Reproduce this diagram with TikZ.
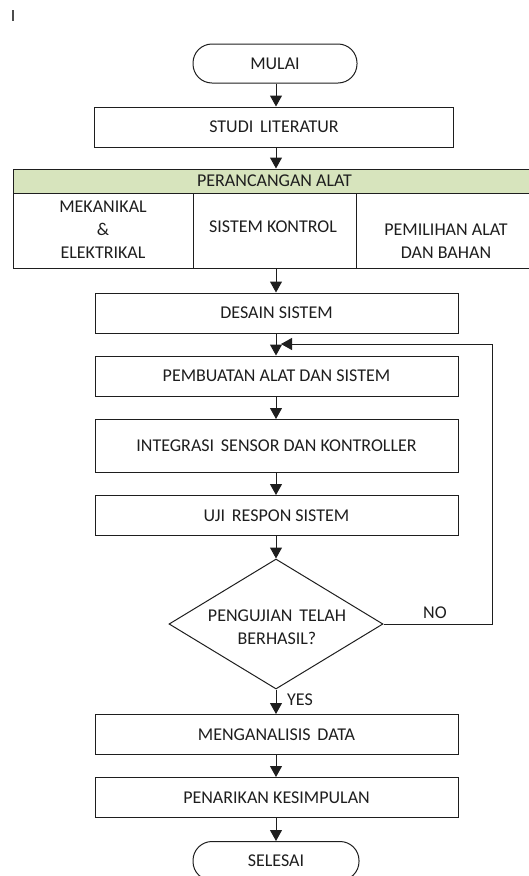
\documentclass[tikz,border=0pt]{standalone}
\usepackage{fontspec}
\setmainfont{Carlito}
\usetikzlibrary{arrows.meta,shapes.geometric}
\definecolor{hdrgreen}{RGB}{215,228,189}
\definecolor{ink}{RGB}{30,30,30}
\newcommand{\dsp}{\ \hspace{0.15em}}
\begin{document}
\begin{tikzpicture}[x=1pt,y=-1pt,
  every node/.style={font=\fontsize{18}{23}\selectfont, text=ink},
  procbox/.style={draw=ink, line width=1pt, minimum width=363pt, minimum height=40pt, inner sep=0pt, align=center},
  term/.style={draw=ink, line width=1pt, rounded corners=19pt, minimum width=164pt, minimum height=39pt, inner sep=0pt},
  cellbox/.style={draw=ink, line width=1pt, inner sep=0pt},
  lbl/.style={align=center, inner sep=0pt},
  arr/.style={draw=ink, line width=1pt, -{Triangle[width=12pt,length=11pt]}},
  plain/.style={draw=ink, line width=1pt}
]
\useasboundingbox (0,0) rectangle (528,876);

% small mark top-left
\draw[line width=1.3pt, black!70] (13,10) -- (13,21);

% nodes
\node[term] (start) at (275,63.5) {MULAI};
\node[procbox, minimum width=359pt] (studi) at (274,127) {STUDI\dsp LITERATUR};

% table
\node[cellbox, fill=hdrgreen, minimum width=523pt, minimum height=24pt] (hdr) at (274.5,181) {PERANCANGAN ALAT};
\node[cellbox, minimum width=180pt, minimum height=75pt] (c1) at (103,230.5) {};
\node[cellbox, minimum width=163pt, minimum height=75pt] (c2) at (274.5,230.5) {};
\node[cellbox, minimum width=180pt, minimum height=75pt] (c3) at (446,230.5) {};
\node[lbl] (t1) at (103,230) {MEKANIKAL\\\&\\ELEKTRIKAL};
\node[lbl] (t2) at (273,227) {SISTEM KONTROL};
\node[lbl] (t3) at (446,241) {PEMILIHAN ALAT\\DAN BAHAN};

\node[procbox] (desain) at (276.5,313) {DESAIN SISTEM};
\node[procbox] (buat) at (276.5,376) {PEMBUATAN ALAT DAN SISTEM};
\node[procbox, minimum height=53pt] (integ) at (276.5,446) {INTEGRASI\dsp SENSOR DAN KONTROLLER};
\node[procbox] (uji) at (276.5,515.5) {UJI\dsp RESPON SISTEM};
\node[draw=ink, line width=1pt, diamond, minimum width=214pt, minimum height=130pt, inner sep=0pt, align=center] (cek) at (276,624) {};
\node[lbl] (cektext) at (277,627) {PENGUJIAN\dsp TELAH\\BERHASIL?};
\node[procbox] (analisis) at (276.5,734.5) {MENGANALISIS\dsp DATA};
\node[procbox] (tarik) at (276.5,797.5) {PENARIKAN KESIMPULAN};
\node[term, minimum width=166pt] (stop) at (276,861) {SELESAI};

% connectors
\draw[arr] (start.south -| 276,0) -- (276,0 |- studi.north);
\draw[arr] (studi.south -| 276,0) -- (276,0 |- hdr.north);
\draw[arr] (276,0 |- c2.south) -- (276,0 |- desain.north);
\draw[arr] (276,0 |- desain.south) -- (276,0 |- buat.north);
\draw[arr] (276,0 |- buat.south) -- (276,0 |- integ.north);
\draw[arr] (276,0 |- integ.south) -- (276,0 |- uji.north);
\draw[arr] (276,0 |- uji.south) -- (cek.north);
\draw[arr] (cek.south) -- (276,0 |- analisis.north);
\draw[arr] (276,0 |- analisis.south) -- (276,0 |- tarik.north);
\draw[arr] (276,0 |- tarik.south) -- (stop.north);

% loop back
\coordinate (corner) at (492,344);
\coordinate (ret) at (281,344);
\draw[plain] (cek.east) -| (corner);
\draw[arr] (corner) -- (ret);

% labels
\node (no) at (435,613) {NO};
\node[anchor=west, inner sep=0pt] (yes) at (287,700) {YES};
\end{tikzpicture}
\end{document}
